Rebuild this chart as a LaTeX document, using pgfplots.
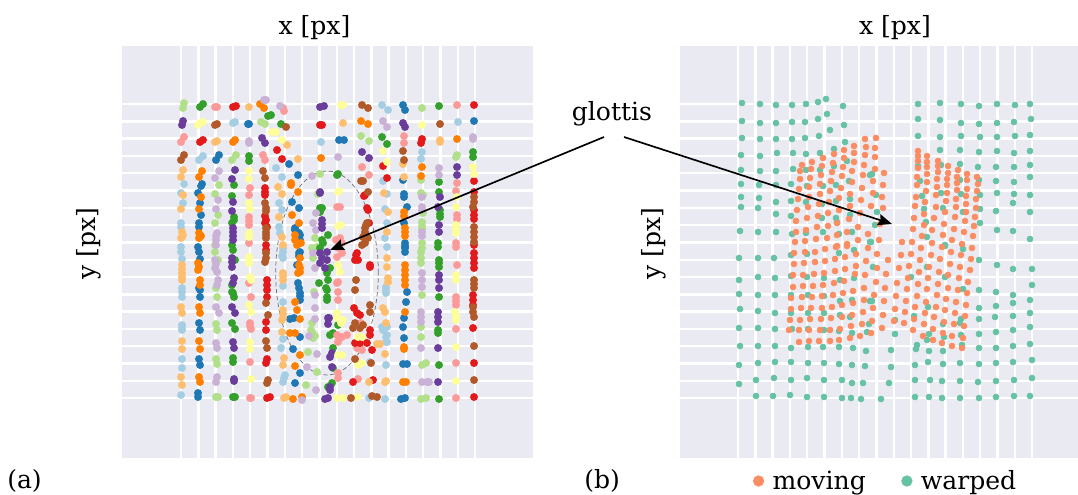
\documentclass[border=0pt]{standalone}
\usepackage{pgfplots}
\pgfplotsset{compat=1.18}
\usepackage{fontspec}
\setmainfont{DejaVu Serif}
\usetikzlibrary{arrows.meta}
\definecolor{bgc}{HTML}{EAEAF2}
\definecolor{lb}{HTML}{A6CEE3}\definecolor{bb}{HTML}{1F78B4}
\definecolor{lg}{HTML}{B2DF8A}\definecolor{gg}{HTML}{33A02C}
\definecolor{pk}{HTML}{FB9A99}\definecolor{rr}{HTML}{E31A1C}
\definecolor{lo}{HTML}{FDBF6F}\definecolor{oo}{HTML}{FF7F00}
\definecolor{lp}{HTML}{CAB2D6}\definecolor{pp}{HTML}{6A3D9A}
\definecolor{yy}{HTML}{FFFF99}\definecolor{br}{HTML}{B15928}
\definecolor{mov}{HTML}{FC8D62}\definecolor{war}{HTML}{66C2A5}
\newcommand{\fs}{\fontsize{18.8}{22}\selectfont}
\pgfplotsset{
  common/.style={
    scale only axis, y dir=reverse, clip=true,
    axis background/.style={fill=bgc},
    axis line style={draw=none}, tick style={draw=none},
    xticklabels={}, yticklabels={},
    grid=major, grid style={white,line width=1.8pt},
    ytick={104,121.3,138.6,155.9,173.2,190.5,207.8,225.1,242.4,259.7,277,294.3,311.6,328.9,346.2,363.5,380.8,398},
    ymin=46, ymax=458,
    xlabel={x [px]}, ylabel={y [px]},
    label style={font=\fs},
    y label style={at={(axis description cs:0,0.52)},anchor=base},
  },
  da/.style={only marks,mark=*,mark size=2.75pt,color=#1,mark options={fill=#1,draw=none}},
  db/.style={only marks,mark=*,mark size=2.25pt,color=#1,mark options={fill=#1,draw=none}},
}
\begin{document}
\begin{tikzpicture}[x=0.75pt,y=-0.75pt]
\useasboundingbox (0,0) rectangle (1078,495);
\begin{axis}[common, at={(122,458)}, anchor=south west, width=308.25pt, height=309pt,
  xmin=122, xmax=533,
  xtick={181,198.3,215.6,232.9,250.2,267.5,284.8,302.1,319.4,336.7,354,371.3,388.6,405.9,423.2,440.5,457.8,475},
  x label style={at={(axis description cs:0.5,1)},anchor=base,yshift=9pt,xshift=-9.75pt},
  y label style={yshift=20pt}]
\addplot[da=lb] coordinates {(184,184)(181,193)(183,203)(181,223)(181,227)(181,247)(181,252)(182,259)(182,288)(182,292)(182,297)(182,325)(182,328)(182,330)(182,359)(182,368)(181,395)(203,156)(199,160)(233,123)(235,122)(276,168)(282,177)(279,203)(282,210)(279,227)(280,233)(282,256)(283,252)(283,286)(283,302)(283,339)(281,348)(285,375)(284,378)(283,382)(283,248)(283,258)(382,105)(388,110)(383,181)(387,194)(385,209)(387,223)(385,238)(387,247)(386,287)(386,290)(386,293)(383,327)(386,337)(386,342)(386,365)(385,399)(382,327)(387,327)(383,330)(387,335)(387,342)(370,362)(369,398)(422,152)(421,159)(458,122)(321,142)};
\addplot[da=bb] coordinates {(202,184)(201,186)(198,193)(200,203)(201,215)(199,223)(199,227)(198,247)(199,252)(200,259)(199,288)(200,290)(200,297)(199,323)(200,330)(199,359)(200,365)(198,393)(198,397)(219,155)(216,160)(248,124)(249,124)(289,164)(298,175)(292,202)(299,208)(295,230)(299,233)(299,253)(299,256)(298,283)(299,288)(300,293)(300,296)(300,300)(290,319)(294,318)(300,337)(293,349)(300,373)(295,383)(295,228)(300,235)(300,240)(300,243)(300,252)(297,265)(339,140)(344,140)(403,105)(405,110)(403,180)(404,194)(404,197)(407,207)(404,223)(405,243)(405,246)(405,248)(405,252)(407,292)(406,302)(404,318)(403,327)(404,338)(403,364)(407,364)(401,399)(405,398)(474,121)};
\addplot[da=lg] coordinates {(184,103)(183,108)(219,185)(215,194)(218,215)(215,223)(215,245)(215,252)(218,260)(216,288)(217,297)(216,324)(217,330)(216,359)(217,364)(216,397)(218,397)(236,155)(232,160)(261,122)(265,124)(320,174)(318,194)(315,238)(312,248)(313,258)(317,247)(314,292)(312,323)(312,332)(313,338)(311,330)(315,336)(306,385)(308,352)(317,372)(361,136)(369,141)(422,108)(421,180)(421,193)(423,195)(423,213)(422,222)(422,226)(422,229)(422,243)(422,248)(421,252)(421,258)(421,263)(422,295)(421,327)(421,337)(422,365)(426,363)(421,399)(426,398)(457,155)(456,157)};
\addplot[da=gg] coordinates {(200,107)(203,104)(234,185)(232,196)(234,217)(234,220)(232,223)(232,245)(233,250)(235,260)(232,285)(232,292)(234,297)(233,293)(232,323)(235,329)(233,362)(233,358)(233,397)(235,397)(249,156)(249,161)(268,116)(271,115)(281,124)(338,174)(337,175)(320,208)(322,208)(320,212)(328,235)(322,240)(323,243)(320,248)(330,268)(327,273)(328,280)(319,283)(326,288)(327,290)(327,297)(327,300)(338,325)(330,335)(333,333)(333,348)(333,368)(332,383)(328,387)(382,137)(387,144)(439,106)(439,182)(439,192)(440,210)(440,214)(440,217)(438,243)(438,247)(439,260)(439,263)(439,267)(439,297)(438,330)(438,333)(439,365)(439,399)(473,152)(473,157)};
\addplot[da=pk] coordinates {(184,137)(181,142)(217,107)(215,107)(250,188)(249,195)(249,217)(249,221)(249,225)(249,243)(249,283)(251,297)(250,323)(250,326)(251,329)(250,362)(250,398)(251,398)(284,111)(283,108)(263,155)(265,160)(340,207)(337,207)(340,238)(336,240)(342,243)(338,248)(342,253)(337,257)(338,282)(337,283)(338,292)(338,300)(337,335)(342,337)(338,342)(347,335)(338,373)(338,378)(362,167)(369,175)(361,323)(357,348)(362,350)(358,379)(404,136)(404,143)(457,105)(457,183)(456,191)(457,215)(457,219)(456,243)(456,247)(457,265)(456,297)(456,301)(456,305)(456,329)(456,363)(456,398)};
\addplot[da=rr] coordinates {(200,142)(203,140)(233,107)(236,106)(265,188)(265,192)(265,195)(265,216)(265,223)(266,220)(267,227)(266,245)(266,250)(267,280)(267,285)(267,290)(267,297)(266,322)(266,330)(267,359)(266,363)(267,398)(270,397)(277,150)(282,159)(320,125)(322,125)(364,196)(368,210)(369,223)(365,237)(357,253)(355,260)(358,260)(356,255)(370,265)(370,267)(354,308)(357,313)(360,315)(370,330)(370,335)(355,343)(360,343)(367,343)(372,350)(353,382)(373,380)(383,166)(387,178)(422,139)(421,143)(474,105)(474,181)(474,192)(474,210)(474,215)(474,219)(474,245)(474,253)(474,258)(474,263)(474,268)(473,295)(473,300)(473,305)(473,328)(474,363)(474,397)(367,208)(365,195)(365,238)};
\addplot[da=lo] coordinates {(183,170)(181,177)(183,195)(181,209)(182,232)(181,238)(182,237)(183,235)(182,265)(182,269)(182,273)(182,277)(182,280)(181,307)(182,313)(182,341)(182,349)(181,377)(182,385)(217,141)(215,142)(249,107)(287,145)(298,159)(278,187)(282,194)(279,217)(282,237)(283,245)(283,273)(283,276)(283,280)(283,310)(283,314)(283,318)(282,320)(282,332)(284,358)(283,365)(284,398)(286,397)(343,123)(380,344)(377,344)(383,308)(385,312)(385,354)(369,382)(386,381)(384,193)(388,212)(387,232)(387,258)(387,267)(388,278)(388,282)(386,323)(385,382)(403,164)(404,177)(440,140)(440,142)};
\addplot[da=oo] coordinates {(202,171)(199,177)(201,197)(199,209)(199,233)(199,238)(201,236)(198,263)(199,267)(198,270)(200,280)(200,285)(199,307)(200,313)(199,341)(200,349)(199,377)(200,382)(233,142)(235,140)(260,104)(264,108)(291,183)(291,185)(298,192)(292,215)(299,223)(295,240)(301,243)(299,265)(300,272)(295,302)(297,310)(300,319)(290,333)(295,333)(300,355)(295,366)(293,399)(302,397)(295,235)(297,245)(300,258)(300,268)(298,273)(321,158)(361,121)(368,124)(404,212)(404,216)(405,228)(405,232)(405,236)(405,265)(405,270)(405,275)(405,280)(405,285)(405,312)(404,347)(404,349)(403,382)(406,382)(422,167)(421,176)(457,139)};
\addplot[da=lp] coordinates {(219,171)(215,178)(218,200)(216,209)(217,233)(216,236)(216,240)(216,245)(215,260)(216,264)(215,268)(217,272)(218,280)(217,285)(216,307)(219,313)(216,343)(217,348)(217,377)(216,382)(249,141)(249,143)(264,100)(266,100)(280,106)(312,176)(316,213)(313,223)(316,230)(313,253)(315,268)(315,295)(315,308)(315,319)(309,336)(317,354)(307,367)(316,390)(302,400)(338,157)(383,121)(387,127)(422,197)(422,207)(422,210)(422,232)(422,236)(422,273)(422,280)(422,287)(421,312)(421,317)(421,322)(421,348)(422,382)(427,382)(429,382)(439,168)(439,175)(473,137)(473,139)};
\addplot[da=pp] coordinates {(183,121)(182,125)(235,170)(232,179)(233,202)(232,211)(233,228)(233,232)(233,236)(233,240)(232,258)(232,262)(232,267)(234,278)(233,283)(232,307)(235,313)(233,342)(234,348)(234,379)(234,381)(262,138)(265,143)(320,107)(324,106)(320,192)(320,193)(322,220)(322,224)(322,228)(320,253)(327,252)(322,258)(327,260)(320,263)(325,268)(328,318)(329,318)(328,324)(332,353)(330,357)(332,367)(330,387)(330,390)(325,399)(328,398)(362,152)(369,158)(403,123)(405,127)(440,197)(438,207)(439,225)(439,232)(439,275)(439,280)(439,288)(438,312)(438,317)(438,322)(438,348)(438,382)(457,167)(457,175)};
\addplot[da=yy] coordinates {(200,123)(203,122)(198,125)(249,171)(249,179)(249,203)(250,209)(249,233)(249,235)(249,237)(249,257)(249,260)(249,263)(250,277)(251,280)(249,305)(251,312)(250,342)(250,349)(251,379)(272,132)(276,132)(282,140)(341,105)(343,105)(339,191)(338,192)(341,225)(338,226)(338,265)(340,272)(337,313)(337,318)(341,323)(343,320)(338,355)(342,355)(343,398)(337,398)(358,337)(362,337)(358,365)(362,363)(358,397)(383,151)(387,162)(422,125)(457,197)(456,207)(456,225)(456,229)(456,233)(456,275)(456,280)(455,312)(456,316)(456,320)(456,347)(456,381)(473,167)(474,174)};
\addplot[da=br] coordinates {(184,155)(181,160)(217,124)(215,125)(263,171)(265,178)(265,203)(266,208)(266,211)(266,228)(266,232)(266,238)(266,235)(266,253)(266,258)(265,262)(266,303)(268,315)(266,341)(267,348)(268,380)(267,383)(286,127)(362,105)(368,108)(363,181)(361,181)(368,192)(366,225)(363,237)(365,243)(367,223)(365,228)(365,232)(365,235)(362,245)(368,238)(356,280)(355,290)(370,305)(370,312)(355,323)(360,328)(353,328)(363,325)(355,359)(371,363)(351,398)(372,396)(377,397)(403,151)(404,160)(440,124)(474,197)(474,202)(473,207)(474,227)(474,232)(474,237)(474,242)(474,280)(474,284)(474,288)(473,307)(473,312)(474,317)(474,346)(474,380)};
\draw[gray!90!black,line width=0.55pt,dash pattern=on 3.2pt off 2pt] (axis cs:327,273) ellipse [x radius=38.5pt,y radius=76.5pt];
\end{axis}
\begin{axis}[common, at={(680,458)}, anchor=south west, width=298.5pt, height=309pt,
  xmin=680, xmax=1078,
  xtick={738,755.3,772.6,789.9,807.2,824.5,841.8,859.1,876.4,893.7,911,928.3,945.6,962.9,980.2,997.5,1014.8,1032},
  x label style={at={(axis description cs:0.5,1)},anchor=base,yshift=9pt,xshift=12pt},
  y label style={yshift=15pt},
  legend columns=2,
  legend style={at={(axis cs:749,481)},anchor=west,draw=none,fill=none,font=\fs,
    /tikz/every even column/.append style={column sep=24.8pt}},
  legend image post style={mark size=4pt}]
\addlegendimage{db=mov}
\addlegendentry{\hspace{4.5pt}moving}
\addplot[db=war] coordinates {(742,103)(760,104)(776,105)(792,105)(806,104)(818,102)(826,99)(843,106)(742,121)(760,123)(776,123)(792,122)(805,122)(818,119)(827,114)(830,130)(844,125)(742,138)(760,139)(776,139)(792,139)(805,138)(819,136)(845,142)(741,155)(760,156)(777,153)(793,153)(806,154)(820,153)(834,149)(741,170)(760,171)(776,171)(793,169)(806,170)(820,170)(834,166)(847,161)(741,184)(759,185)(776,185)(791,184)(807,186)(823,186)(836,185)(849,181)(870,175)(741,197)(759,198)(776,202)(791,201)(806,202)(822,204)(836,201)(850,199)(741,207)(758,208)(776,214)(791,216)(822,218)(836,218)(850,215)(740,231)(758,232)(776,232)(792,234)(806,233)(823,232)(837,222)(839,234)(852,232)(870,242)
(739,258)(758,258)(774,258)(791,255)(807,254)(839,253)(854,250)(739,280)(758,277)(775,278)(791,276)(807,277)(824,278)(840,280)(854,278)(739,294)(758,295)(775,295)(791,295)(808,295)(824,296)(840,301)(852,300)(870,301)(740,309)(758,311)(775,313)(791,313)(808,313)(824,313)(840,315)(850,317)(869,324)(739,328)(758,328)(775,329)(792,329)(808,329)(824,330)(839,331)(852,333)(867,332)(740,346)(758,346)(775,346)(791,348)(808,347)(823,347)(839,347)(853,348)(866,351)(739,365)(758,363)(775,362)(791,362)(808,363)(824,363)(839,364)(852,365)(865,366)(739,384)(756,380)(774,378)(791,380)(807,378)(824,380)(842,380)(852,383)(863,383)(756,396)(773,396)(790,395)(807,397)(824,397)(842,398)(851,398)(861,399)
(918,104)(940,103)(961,104)(979,106)(997,104)(1015,105)(1030,104)(918,119)(940,120)(961,123)(979,124)(997,123)(1014,122)(1031,119)(918,136)(940,137)(961,136)(980,137)(997,137)(1015,136)(1030,135)(940,150)(960,150)(979,152)(997,151)(1014,153)(1030,151)(918,166)(941,165)(960,164)(978,167)(996,167)(1014,167)(1030,165)(872,174)(920,181)(960,180)(979,180)(996,181)(1014,182)(1030,177)(876,195)(922,196)(941,193)(961,194)(980,195)(997,193)(1014,194)(1030,195)(877,212)(924,209)(943,208)(963,212)(980,209)(996,211)(1013,203)(1030,212)(875,225)(926,222)(980,223)(997,230)(1013,231)(871,242)(927,237)(945,245)(1030,239)
(927,267)(911,277)(945,277)(873,267)(979,260)(997,265)(1013,269)(1032,269)(963,289)(979,290)(996,292)(1013,295)(1032,285)(872,301)(928,307)(979,308)(996,306)(1013,303)(1030,300)(895,320)(914,316)(961,319)(979,319)(995,317)(1013,316)(1030,313)(943,324)(960,323)(979,334)(996,332)(1013,330)(1030,327)(895,334)(929,334)(927,340)(944,337)(961,335)(962,345)(917,345)(916,349)(891,350)(929,351)(943,351)(979,348)(996,348)(1013,346)(1030,344)(891,367)(915,365)(928,362)(943,364)(960,363)(979,364)(996,363)(1013,362)(1032,360)(889,383)(915,380)(930,380)(942,381)(960,381)(978,382)(996,381)(1014,380)(1032,378)(881,399)(915,397)(929,397)(942,398)(960,398)(979,398)(996,397)(1014,396)(1030,396)(963,249)(945,246)};
\addlegendentry{\hspace{4.5pt}warped}
\addplot[db=mov,forget plot] coordinates {(865,139)(854,146)(866,147)(844,150)(854,153)(865,155)(834,154)(823,158)(844,158)(812,162)(833,163)(854,162)(864,165)(802,165)(811,169)(822,166)(843,167)(852,171)(800,171)(821,175)(832,172)(863,175)(800,179)(810,178)(842,176)(831,181)(820,184)(809,187)(852,182)(841,188)(862,188)(799,189)(830,191)(820,194)(850,194)(809,197)(798,199)(839,198)(861,200)(819,204)(829,202)(808,207)(850,206)(797,210)(839,210)(860,213)(828,213)(818,216)(807,218)(796,221)(849,219)(837,223)(858,227)(828,226)(817,227)(806,230)(796,232)(837,235)(847,232)(868,234)(827,238)(816,239)(805,241)(795,242)(858,240)(847,244)(837,246)
(794,253)(805,252)(815,252)(825,249)(836,247)(847,246)(868,248)(856,254)(845,257)(835,259)(825,261)(815,262)(804,263)(794,264)(866,261)(856,266)(845,269)(835,271)(824,273)(814,274)(803,275)(793,275)(865,275)(855,274)(844,281)(834,283)(823,285)(813,286)(803,286)(793,287)(864,288)(853,291)(843,293)(833,295)(822,296)(812,297)(802,297)(791,298)(864,300)(853,303)(842,305)(832,307)(822,308)(811,308)(801,308)(791,309)(863,312)(852,315)(842,317)(831,318)(821,319)(810,319)(800,320)(790,320)(862,324)(851,326)(840,329)(830,330)(820,330)(809,330)(799,330)(789,330)(860,336)(850,338)(839,340)(830,341)(819,341)(809,341)(799,342)
(876,138)(875,148)(875,157)(875,169)(884,173)(873,181)(883,185)(873,193)(882,197)(871,206)(883,208)(880,224)(879,240)(902,242)(912,242)(932,243)(962,244)(918,151)(918,156)(927,156)(918,161)(927,162)(938,161)(938,166)(918,168)(927,167)(948,166)(958,170)(948,173)(938,172)(927,174)(917,177)(967,174)(977,177)(957,177)(947,179)(937,179)(927,182)(917,185)(967,180)(978,184)(957,183)(947,185)(937,187)(926,191)(967,189)(977,191)(957,190)(947,193)(936,195)(916,197)(966,196)(976,199)(956,199)(946,201)(925,202)(966,204)(976,208)(956,207)(945,212)(936,207)(915,206)(966,212)(975,217)(955,217)(924,214)(934,218)(914,218)(965,221)(974,226)(944,224)(924,225)(954,229)(964,232)(932,230)(913,229)(943,235)(922,236)(973,236)(952,240)
(877,254)(888,260)(901,255)(911,254)(921,248)(931,255)(942,247)(951,252)(961,255)(972,248)(920,260)(940,259)(950,264)(971,259)(960,267)(970,270)(877,268)(899,268)(909,266)(929,267)(919,272)(939,272)(886,274)(908,278)(928,278)(948,275)(959,278)(968,282)(876,282)(897,283)(918,284)(938,284)(885,288)(907,289)(927,289)(948,288)(958,290)(967,293)(874,295)(896,296)(917,296)(937,295)(946,299)(956,302)(966,305)(884,301)(906,301)(926,302)(873,308)(895,309)(915,307)(936,307)(945,310)(955,313)(965,316)(883,315)(905,312)(925,313)(872,321)(894,321)(914,319)(934,317)(944,322)(954,324)(964,326)(882,328)(904,323)(924,324)(871,333)(913,330)(933,329)(943,333)(952,336)(963,338)(923,336)(933,340)(942,343)(952,346)(962,348)};
\end{axis}
\draw[black,line width=1.25pt,-{Stealth[length=10.5pt,width=8.5pt,inset=1.5pt]}] (604,137) -- (330,250);
\draw[black,line width=1.25pt,-{Stealth[length=10.5pt,width=8.5pt,inset=1.5pt]}] (624,137) -- (892,224);
\node[font=\fs,anchor=base] at (612,121) {glottis};
\node[font=\fs,anchor=base west,inner sep=0pt] at (7,488) {(a)};
\node[font=\fs,anchor=base west,inner sep=0pt] at (584,488) {(b)};
\end{tikzpicture}
\end{document}
